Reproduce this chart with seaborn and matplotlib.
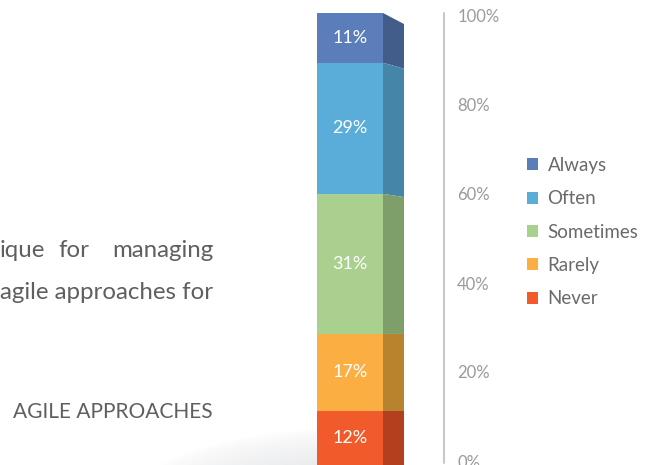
import numpy as np
import pandas as pd
import seaborn as sns
import matplotlib
matplotlib.use("Agg")
import matplotlib.pyplot as plt
from matplotlib.patches import Polygon, Patch
from matplotlib.lines import Line2D

# ---- data ----
levels = ["Always", "Often", "Sometimes", "Rarely", "Never"]
shares = [11, 29, 31, 17, 12]
front_colors = ["#5B7DBA", "#5AACD9", "#A9D08E", "#FBAF42", "#F15A2B"]
side_colors = ["#435D8B", "#4585A8", "#7E9F6A", "#B8832F", "#B2401F"]
tick_values = [0, 20, 40, 60, 80, 100]
tick_labels = ["0%", "20%", "40%", "60%", "80%", "100%"]
line1_words = ["ique", "for", "managing"]
line2 = "agile approaches for"
section_title = "AGILE APPROACHES"

sns.set_theme(style="white")
plt.rcParams["font.family"] = ["Lato", "DejaVu Sans"]

W, H = 655, 465
fig = plt.figure(figsize=(W / 100, H / 100), dpi=100)
fig.patch.set_facecolor("white")

# ---- background shadow ----
ax_bg = fig.add_axes([0, 0, 1, 1])
ax_bg.set_xlim(0, W)
ax_bg.set_ylim(H, 0)
ax_bg.axis("off")
yy, xx = np.mgrid[0:H, 0:W]
r = np.sqrt(((xx - 345) / 235.0) ** 2 + ((yy - 520) / 92.0) ** 2)
alpha = np.clip(1 - r, 0, 1) ** 0.7 * 0.75
alpha[:, 318:] = 0
img = np.zeros((H, W, 4))
img[..., 0] = 0.80
img[..., 1] = 0.81
img[..., 2] = 0.83
img[..., 3] = alpha
ax_bg.imshow(img, extent=(0, W, H, 0), aspect="auto", zorder=0)

# ---- left texts (justified first line) ----
txt_color = "#5f5f5f"
fs = 17.3
ax_bg.text(0, 250, line1_words[0], ha="left", va="center", fontsize=fs, color=txt_color)
ax_bg.text(58, 250, line1_words[1], ha="left", va="center", fontsize=fs, color=txt_color)
ax_bg.text(213, 250, line1_words[2], ha="right", va="center", fontsize=fs, color=txt_color)
ax_bg.text(213, 292, line2, ha="right", va="center", fontsize=fs, color=txt_color)
ax_bg.text(213, 412, section_title, ha="right", va="center", fontsize=15, color=txt_color)

# ---- bar ----
bar_left, bar_w = 317, 66
top_px = 13
ax_bar = fig.add_axes([bar_left / W, 0, bar_w / W, (H - top_px) / H])
ax_bar.set_xlim(-0.5, 0.5)
ax_bar.set_ylim(0, 100)
ax_bar.axis("off")

cum_top = list(np.cumsum(shares[::-1])[::-1])  # Always top = 100
cum_bot = [t - s for t, s in zip(cum_top, shares)]
df = pd.DataFrame({"group": ["A"] * len(levels), "level": levels, "cum": cum_top})
sns.barplot(data=df, x="group", y="cum", hue="level", hue_order=levels,
            palette=dict(zip(levels, front_colors)), dodge=False, width=1.0,
            legend=False, ax=ax_bar, saturation=1, linewidth=0)
ax_bar.set_xlim(-0.5, 0.5)
ax_bar.set_ylim(0, 100)

px_per_pct = (H - top_px) / 100.0
depth = 21 / bar_w


def slant(v):
    return np.interp(v, [0, 29, 60, 89, 100], [0, 0, 3.3, 6, 11]) / px_per_pct


for lo, hi, c in zip(cum_bot, cum_top, side_colors):
    poly = Polygon([(0.5, lo), (0.5 + depth, lo - slant(lo)),
                    (0.5 + depth, hi - slant(hi)), (0.5, hi)],
                   closed=True, facecolor=c, edgecolor="none", clip_on=False)
    ax_bar.add_patch(poly)

for lo, hi, s in zip(cum_bot, cum_top, shares):
    ax_bar.text(0, (lo + hi) / 2, f"{s}%", ha="center", va="center",
                color="white", fontsize=13)

# ---- value axis ----
ax_t = fig.add_axes([444 / W, (H - 461) / H, 0.001, 445 / H])
ax_t.set_ylim(0, 100)
ax_t.set_xticks([])
ax_t.set_yticks(tick_values)
ax_t.set_yticklabels(tick_labels)
ax_t.yaxis.tick_right()
ax_t.tick_params(axis="y", length=0, pad=9, labelsize=12, labelcolor="#9a9a9a")
for s in ax_t.spines.values():
    s.set_visible(False)
ax_t.patch.set_alpha(0)
fig.add_artist(Line2D([444 / W, 444 / W], [(H - 463) / H, (H - 13) / H],
                      color="#c8c8c8", linewidth=1.5))

# ---- legend ----
handles = [Patch(facecolor=c, edgecolor="none") for c in front_colors]
fig.legend(handles, levels, loc="upper left", bbox_to_anchor=(527 / W, 1 - 157 / H),
           frameon=False, fontsize=13.5, labelcolor="#6a6a6a",
           handlelength=0.6, handleheight=0.6, handletextpad=0.5,
           labelspacing=0.87, borderpad=0, borderaxespad=0)

fig.savefig("out.png", dpi=100, facecolor="white")
